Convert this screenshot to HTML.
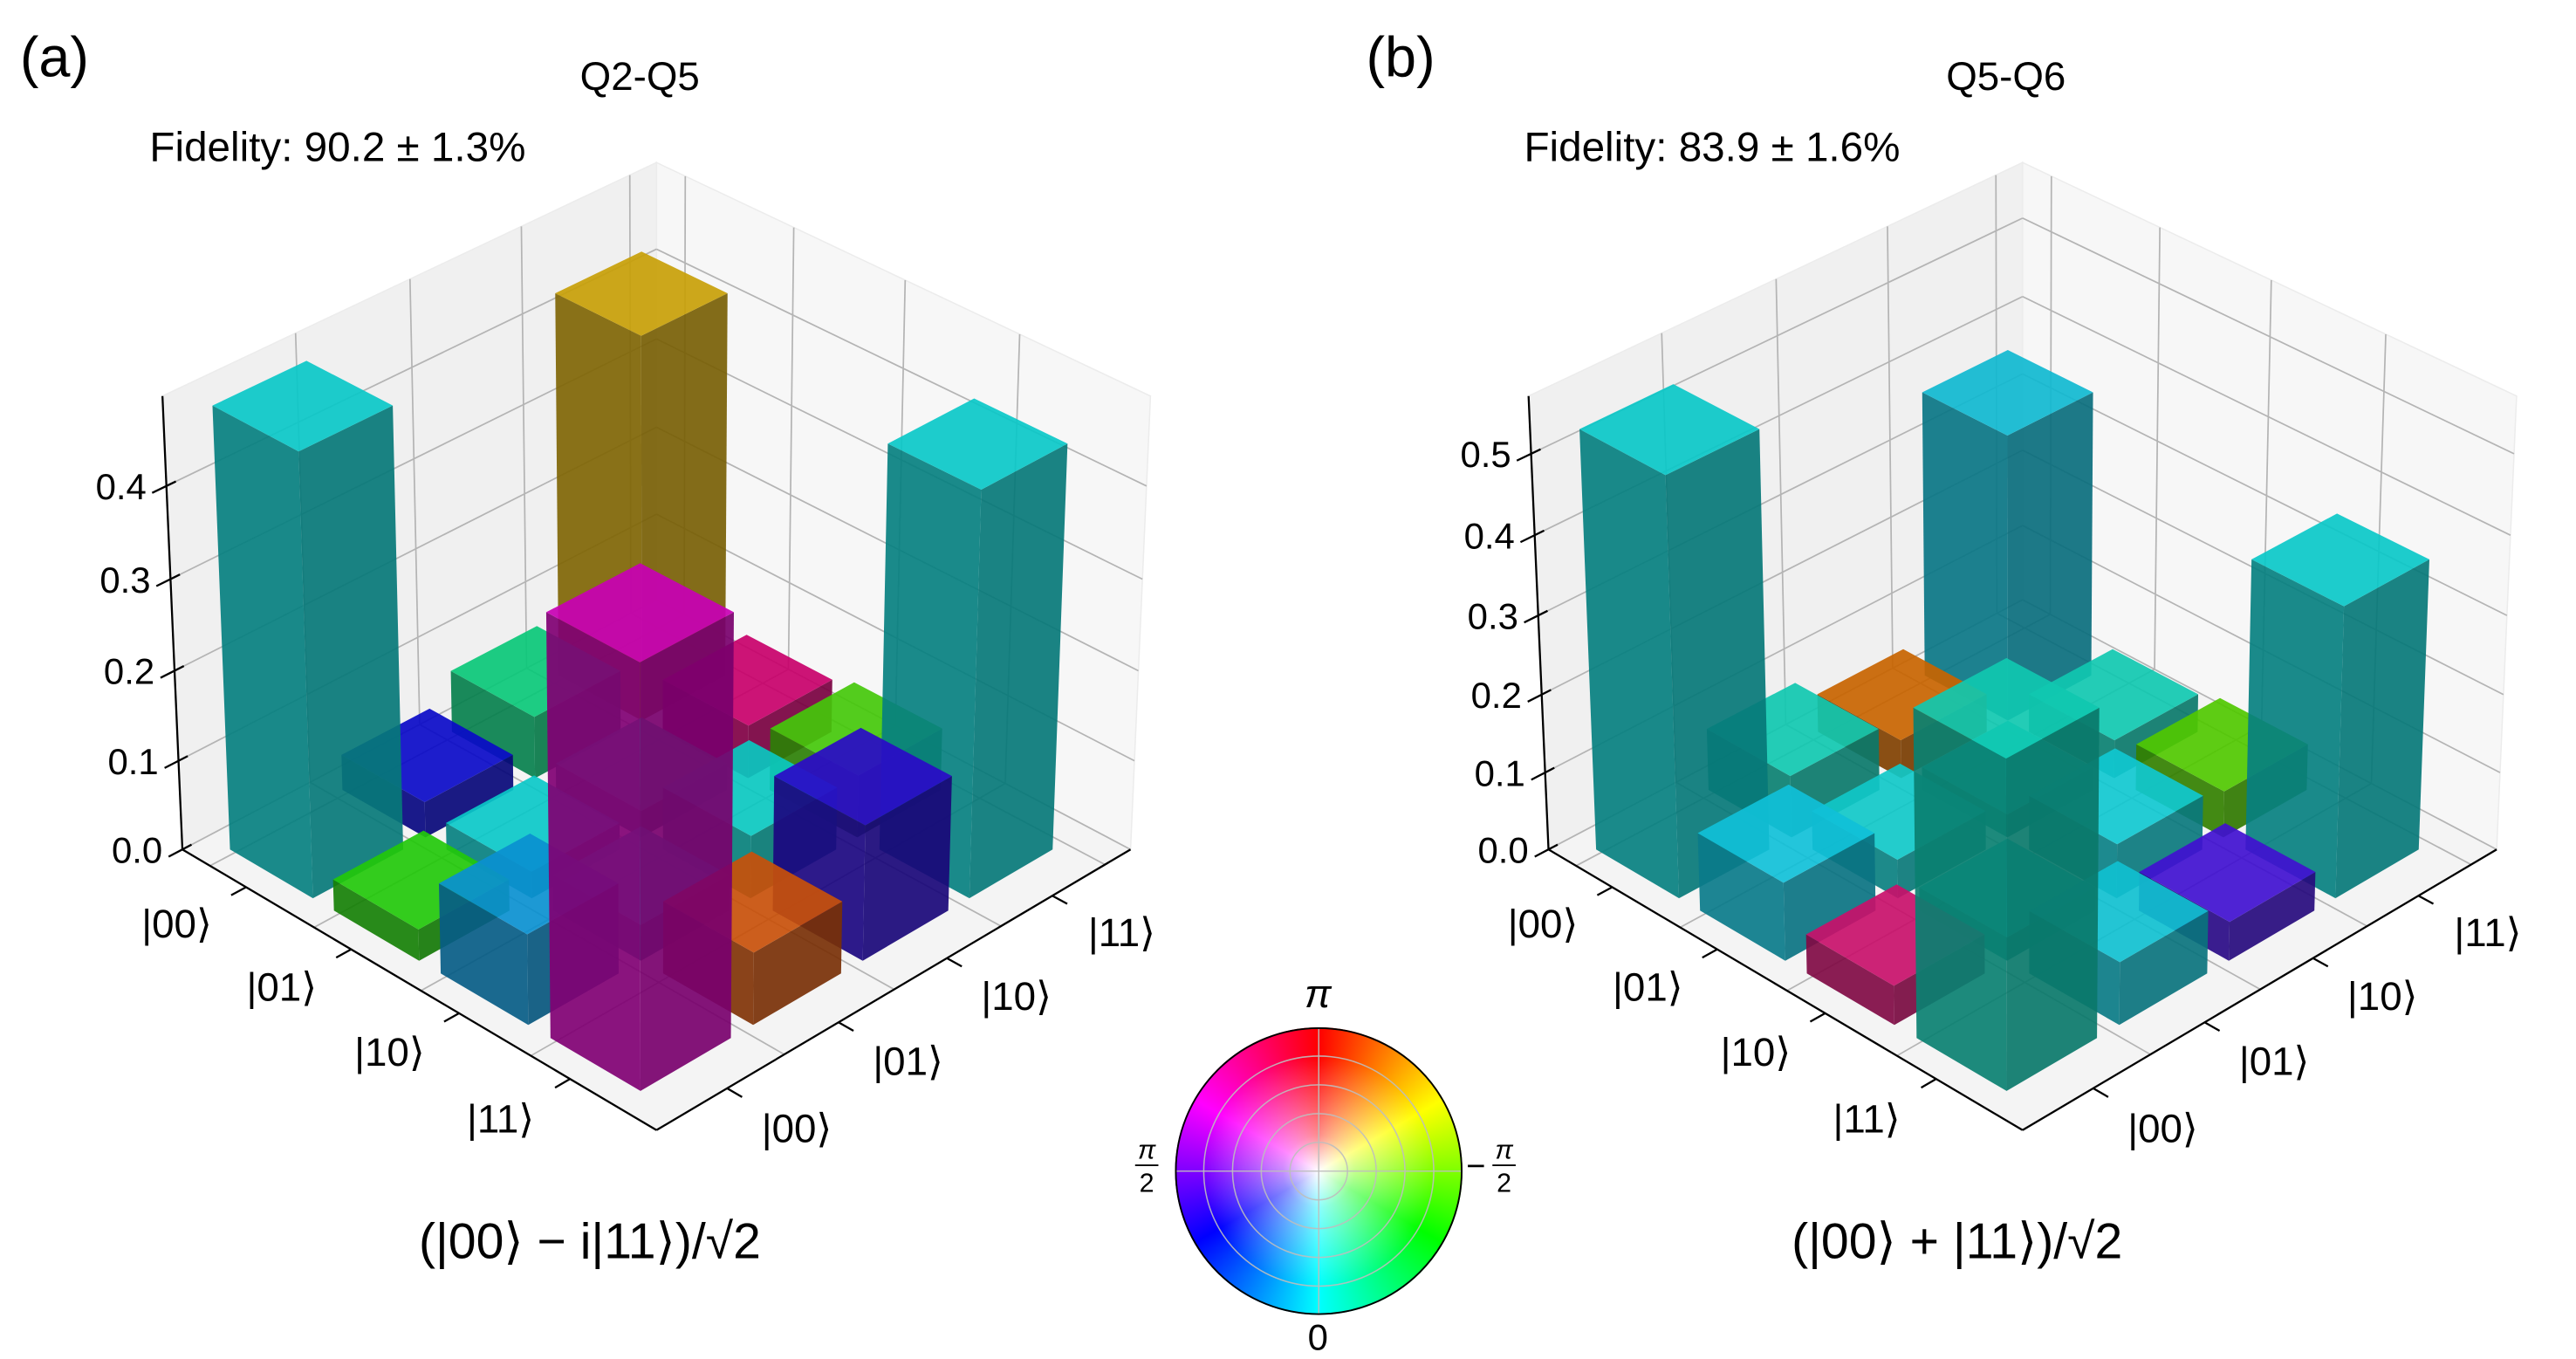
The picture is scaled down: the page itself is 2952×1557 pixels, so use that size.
<!DOCTYPE html>
<html><head><meta charset="utf-8"><style>
html,body{margin:0;padding:0;background:#fff;}
body{width:2952px;height:1557px;overflow:hidden;position:relative;}
#stage{position:absolute;left:0;top:0;width:1550px;height:817.5px;transform:scale(1.904516);transform-origin:0 0;}
#stage svg{position:absolute;left:0;top:0;}
text{font-family:"Liberation Sans","DejaVu Sans",sans-serif;fill:#000;}
#wheel{position:absolute;left:707px;top:618px;width:173px;height:173px;border-radius:50%;
background:conic-gradient(from 0deg,hsl(0,100%,50%) 0deg,hsl(30,100%,50%) 30deg,hsl(60,100%,50%) 60deg,hsl(90,100%,50%) 90deg,hsl(120,100%,50%) 120deg,hsl(150,100%,50%) 150deg,hsl(180,100%,50%) 180deg,hsl(210,100%,50%) 210deg,hsl(240,100%,50%) 240deg,hsl(270,100%,50%) 270deg,hsl(300,100%,50%) 300deg,hsl(330,100%,50%) 330deg,hsl(360,100%,50%) 360deg);}
#wheelwhite{position:absolute;left:0;top:0;width:100%;height:100%;border-radius:50%;background:radial-gradient(circle closest-side,rgba(255,255,255,1) 0%,rgba(255,255,255,0.55) 25%,rgba(255,255,255,0) 80%);}
</style></head><body>
<div id="stage">
<svg id="main" width="1550" height="817.5" viewBox="0 0 1550 817.5">
  <text x="12" y="46" font-size="34">(a)</text>
  <text x="385" y="54" font-size="24" text-anchor="middle">Q2-Q5</text>
  <text x="90" y="97" font-size="25">Fidelity: 90.2 ± 1.3%</text>
  <text x="252" y="757" font-size="30">(|00⟩ − i|11⟩)/√2</text>
  <text x="822" y="46" font-size="34">(b)</text>
  <text x="1207" y="54" font-size="24" text-anchor="middle">Q5-Q6</text>
  <text x="917" y="97" font-size="25">Fidelity: 83.9 ± 1.6%</text>
  <text x="1078" y="757" font-size="30">(|00⟩ + |11⟩)/√2</text>
  <g id="pa"></g>
  <g id="pb"></g>
  <text x="793" y="606" font-size="24" text-anchor="middle" font-style="italic">π</text>
  <text x="793" y="812" font-size="22" text-anchor="middle">0</text>
  <g>
    <text x="690" y="697" font-size="16" text-anchor="middle" font-style="italic">π</text>
    <line x1="683" y1="701" x2="697" y2="701" stroke="#000" stroke-width="1"/>
    <text x="690" y="717" font-size="16" text-anchor="middle">2</text>
  </g>
  <g>
    <text x="888" y="708" font-size="20" text-anchor="middle">−</text>
    <text x="905" y="697" font-size="16" text-anchor="middle" font-style="italic">π</text>
    <line x1="898" y1="701" x2="912" y2="701" stroke="#000" stroke-width="1"/>
    <text x="905" y="717" font-size="16" text-anchor="middle">2</text>
  </g>
</svg>
<div id="wheel"><div id="wheelwhite"></div>
<svg width="173" height="173" viewBox="0 0 173 173" style="position:absolute;left:0;top:0;">
  <g fill="none" stroke="rgba(190,190,190,0.9)" stroke-width="0.8">
    <circle cx="86.5" cy="86.5" r="17.3"/><circle cx="86.5" cy="86.5" r="34.6"/>
    <circle cx="86.5" cy="86.5" r="51.9"/><circle cx="86.5" cy="86.5" r="69.2"/>
    <line x1="86.5" y1="0" x2="86.5" y2="173"/><line x1="0" y1="86.5" x2="173" y2="86.5"/>
  </g>
  <circle cx="86.5" cy="86.5" r="86" fill="none" stroke="#000" stroke-width="1"/>
</svg></div>
</div>
<script>
// ---- data ----
const basisLabels = ["|00⟩","|01⟩","|10⟩","|11⟩"];
const zTicksA = [0.0, 0.1, 0.2, 0.3, 0.4];
const zTicksB = [0.0, 0.1, 0.2, 0.3, 0.4, 0.5];
const zMaxA = 0.495;
const zMaxB = 0.57;
// row-major |abs(rho_rc)|
const valuesA = [0.485,0.04,0.07,0.43, 0.035,0.03,0.03,0.06, 0.10,0.04,0.07,0.07, 0.455,0.08,0.15,0.445];
const colorsA = ["#0ac8c8","#0a0ac8","#0ac878","#c8a008", "#22c80a","#0ac8c8","#0ac8a0","#c8006a", "#0a90d0","#0ac8c8","#0ac8c0","#44c80a", "#c800b4","#c8500a","#2a0ac8","#0ac8c8"];
const valuesB = [0.53,0.08,0.05,0.37, 0.10,0.05,0.03,0.05, 0.05,0.03,0.07,0.06, 0.41,0.08,0.05,0.37];
const colorsB = ["#0ac8c8","#10c8b0","#c86400","#10b8d0", "#10c0d8","#10c8c8","#10c8c0","#10c8b0", "#c8106a","#10c8c8","#10c8d0","#50c800", "#10c8b0","#10c0d0","#4010d0","#0ac8c8"];

const NS="http://www.w3.org/2000/svg";
const DEG=Math.PI/180, E=32*DEG, S=94, D=44, H=3.42, L=4.38, C=L/2;
const gridI=[0.27,1.27,2.27,3.27], gridJ=[1.13,2.13,3.13,4.13];
function rawProj(i,j,zw){
  const p=i-C,q=j-C;
  const h=(p+q)/Math.SQRT2, dep=(p-q)/Math.SQRT2, zz=zw-H/2;
  const v=zz*Math.cos(E)-dep*Math.sin(E);
  const w=dep*Math.cos(E)+zz*Math.sin(E);
  const f=D/(D-w);
  return [S*h*f,-S*v*f];
}
function shade(hex,k){
  const n=parseInt(hex.slice(1),16);
  const r=Math.round(((n>>16)&255)*k),g=Math.round(((n>>8)&255)*k),b=Math.round((n&255)*k);
  return "rgb("+r+","+g+","+b+")";
}
function mk(tag,attrs,parent){const e=document.createElementNS(NS,tag);for(const k in attrs)e.setAttribute(k,attrs[k]);parent.appendChild(e);return e;}

function drawPanel(gid,cx,vals,cols,zTicks,zMax,prefix){
  const g=document.getElementById(gid);
  const b0=rawProj(C,C,0);
  const P=(i,j,zw)=>{const r=rawProj(i,j,zw);return [cx+r[0]-b0[0],511+r[1]-b0[1]];};
  const Z=v=>v*H/zMax;
  const pts=a=>a.map(p=>p[0].toFixed(2)+","+p[1].toFixed(2)).join(" ");
  let e;
  e=mk("polygon",{points:pts([P(0,0,0),P(0,L,0),P(0,L,H),P(0,0,H)]),fill:"#f0f0f0",stroke:"#ececec","stroke-width":0.8},g);
  
  
  e=mk("polygon",{points:pts([P(0,L,0),P(L,L,0),P(L,L,H),P(0,L,H)]),fill:"#f7f7f7",stroke:"#ececec","stroke-width":0.8},g);
  
  
  e=mk("polygon",{points:pts([P(0,0,0),P(L,0,0),P(L,L,0),P(0,L,0)]),fill:"#f4f4f4"},g);
  
  
  const gg=mk("g",{stroke:"#b4b4b4","stroke-width":0.9,fill:"none"},g);
  
  
  const line=(a,b)=>mk("line",{x1:a[0],y1:a[1],x2:b[0],y2:b[1]},gg);
  gridI.forEach(t=>{line(P(t,0,0),P(t,L,0));line(P(t,L,0),P(t,L,H));});
  gridJ.forEach(t=>{line(P(0,t,0),P(L,t,0));line(P(0,t,0),P(0,t,H));});
  zTicks.forEach(z=>{const zw=Z(z);line(P(0,0,zw),P(0,L,zw));line(P(0,L,zw),P(L,L,zw));});
  const ax=mk("g",{stroke:"#000","stroke-width":1.2,fill:"none"},g);
  
  
  const al=(a,b)=>mk("line",{x1:a[0],y1:a[1],x2:b[0],y2:b[1]},ax);
  al(P(0,0,0),P(0,0,H));al(P(0,0,0),P(L,0,0));al(P(L,0,0),P(L,L,0));
  zTicks.forEach(z=>{
    const zw=Z(z);al(P(0,-0.12,zw),P(0,0.08,zw));
    const p=P(0,0,zw);
    const t=mk("text",{x:p[0]-12,y:p[1]+8,"font-size":22,"text-anchor":"end"},g);
    t.textContent=z.toFixed(1);
    
    
  });
  basisLabels.forEach((lab,k)=>{
    const c=0.62+k;
    al(P(c,0,0),P(c,-0.13,0));al(P(L,c,0),P(L+0.13,c,0));
    const pr=P(c,-0.6,0);
    let t=mk("text",{x:pr[0],y:pr[1]+8,"font-size":24,"text-anchor":"middle"},g);
    t.textContent=lab;
    
    
    const pc=P(L+0.6,c,0);
    t=mk("text",{x:pc[0],y:pc[1]+8,"font-size":24,"text-anchor":"middle"},g);
    t.textContent=lab;
    
    
  });
  const order=[];
  for(let r=0;r<4;r++)for(let c=0;c<4;c++)order.push([r,c]);
  order.sort((a,b)=>(a[0]-a[1])-(b[0]-b[1]));
  const hw=0.4;
  order.forEach(([r,c])=>{
    const v=vals[r*4+c],col=cols[r*4+c];
    const i0=0.62+r-hw,i1=0.62+r+hw,j0=0.62+c-hw,j1=0.62+c+hw,zt=Z(v);
    const bg=mk("g",{"fill-opacity":0.92},g);
    
    
    mk("polygon",{points:pts([P(i1,j0,0),P(i1,j1,0),P(i1,j1,zt),P(i1,j0,zt)]),fill:shade(col,0.6)},bg);
    mk("polygon",{points:pts([P(i0,j0,0),P(i1,j0,0),P(i1,j0,zt),P(i0,j0,zt)]),fill:shade(col,0.64)},bg);
    mk("polygon",{points:pts([P(i0,j0,zt),P(i1,j0,zt),P(i1,j1,zt),P(i0,j1,zt)]),fill:col},bg);
  });
}
drawPanel("pa",395,valuesA,colorsA,zTicksA,zMaxA,"panel-a");
drawPanel("pb",1217,valuesB,colorsB,zTicksB,zMaxB,"panel-b");
</script>
</body></html>
